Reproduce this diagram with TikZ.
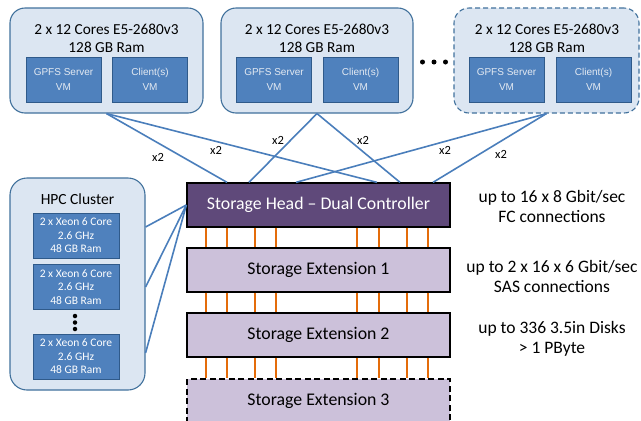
\documentclass[tikz,border=0pt]{standalone}
\usepackage{fontspec}
\setmainfont{Carlito}
\newfontfamily\arialf{Liberation Sans}
\definecolor{boxfill}{HTML}{DCE6F2}
\definecolor{boxline}{HTML}{41719C}
\definecolor{vmfill}{HTML}{4F81BD}
\definecolor{vmline}{HTML}{2F5A8A}
\definecolor{link}{HTML}{4A7EBB}
\definecolor{headfill}{HTML}{5F497A}
\definecolor{extfill}{HTML}{CCC1DA}
\definecolor{sas}{HTML}{E46C0A}
\definecolor{vmtext}{HTML}{E4EAF2}
\tikzset{
  server/.style={draw=boxline, fill=boxfill, line width=1.1pt, rounded corners=15pt, minimum width=#1, minimum height=105pt, inner sep=0pt},
  vmbox/.style={draw=vmline, fill=vmfill, line width=1pt, minimum width=75pt, minimum height=45pt, inner sep=0pt, align=center, text=vmtext, font=\arialf\fontsize{10}{15}\selectfont},
  hpcnode/.style={draw=vmline, fill=vmfill, line width=1pt, minimum width=86pt, minimum height=45pt, inner sep=0pt, align=center, text=white, font=\fontsize{11.5}{13.5}\selectfont},
  title/.style={align=center, font=\fontsize{15.3}{18}\selectfont, inner sep=0pt},
  storbox/.style={draw=black, line width=1.3pt, minimum width=263pt, minimum height=44pt, inner sep=0pt, font=\fontsize{17.8}{20}\selectfont},
  linkline/.style={draw=link, line width=1.6pt},
  sasline/.style={draw=sas, line width=1.5pt},
  mult/.style={font=\fontsize{12.5}{14}\selectfont, inner sep=0pt},
  note/.style={align=center, font=\fontsize{17.5}{20}\selectfont, inner sep=0pt},
  dotmark/.style={fill=black, circle, inner sep=0pt, minimum size=5pt}
}
\begin{document}
\begin{tikzpicture}[x=1pt,y=-1pt]
\useasboundingbox (0,0) rectangle (641,421);
\begin{scope}
\clip (0,0) rectangle (641,421);
% top servers
\node[server=193pt] (b1) at (106.5,60.5) {};
\node[server=192pt] (b2) at (317,60.5) {};
\node[server=185pt, dashed, dash pattern=on 5pt off 3pt] (b3) at (546.5,60.5) {};
\node[title] (t1) at (106.5,38) {2 x 12 Cores E5-2680v3\\128 GB Ram};
\node[title] (t2) at (317,38) {2 x 12 Cores E5-2680v3\\128 GB Ram};
\node[title] (t3) at (547,38) {2 x 12 Cores E5-2680v3\\128 GB Ram};
\node[vmbox] (g1) at (63.5,79.5) {GPFS Server\\VM};
\node[vmbox] (c1) at (150,79.5) {Client(s)\\VM};
\node[vmbox] (g2) at (274,79.5) {GPFS Server\\VM};
\node[vmbox] (c2) at (360.5,79.5) {Client(s)\\VM};
\node[vmbox] (g3) at (506.5,79.5) {GPFS Server\\VM};
\node[vmbox] (c3) at (593.5,79.5) {Client(s)\\VM};
\node[dotmark] (d1) at (422.5,62) {};
\node[dotmark] (d2) at (434,62) {};
\node[dotmark] (d3) at (445.5,62) {};
% HPC cluster
\node[draw=boxline, fill=boxfill, line width=1.1pt, rounded corners=17pt, minimum width=135pt, minimum height=212pt] (hpc) at (77.5,284) {};
\node[font=\fontsize{15.5}{17}\selectfont, inner sep=0pt] (hpct) at (77.5,199) {HPC Cluster};
\node[hpcnode] (n1) at (76,235.5) {2 x Xeon 6 Core\\2.6 GHz\\48 GB Ram};
\node[hpcnode] (n2) at (76,287) {2 x Xeon 6 Core\\2.6 GHz\\48 GB Ram};
\node[hpcnode] (n3) at (76,356.5) {2 x Xeon 6 Core\\2.6 GHz\\48 GB Ram};
\node[dotmark, minimum size=4.5pt] (v1) at (75,316) {};
\node[dotmark, minimum size=4.5pt] (v2) at (75,322.5) {};
\node[dotmark, minimum size=4.5pt] (v3) at (75,329) {};
% storage
\node[storbox, fill=headfill, text=white] (head) at (318.5,205) {Storage Head -- Dual Controller};
\node[storbox, fill=extfill] (e1) at (318.5,270) {Storage Extension 1};
\node[storbox, fill=extfill] (e2) at (318.5,335) {Storage Extension 2};
\node[storbox, fill=extfill, dashed, dash pattern=on 6pt off 3.5pt] (e3) at (318.5,401) {Storage Extension 3};
% SAS lines
\foreach \xx in {206,227,255,276,357,379,407,428}{
  \coordinate (o) at (\xx,0);
  \draw[sasline] (head.south -| o) -- (e1.north -| o);
  \draw[sasline] (e1.south -| o) -- (e2.north -| o);
  \draw[sasline] (e2.south -| o) -- (e3.north -| o);
}
% links
\coordinate (h1) at (227,0);
\coordinate (h2) at (249,0);
\coordinate (h3) at (296,0);
\coordinate (h4) at (377,0);
\coordinate (h5) at (400,0);
\coordinate (h6) at (433,0);
\draw[linkline] (b1.south) -- (head.north -| h1);
\draw[linkline] (b1.south) -- (head.north -| h4);
\draw[linkline] (b2.south) -- (head.north -| h2);
\draw[linkline] (b2.south) -- (head.north -| h5);
\draw[linkline] (b3.south) -- (head.north -| h3);
\draw[linkline] (b3.south) -- (head.north -| h6);
\coordinate (p1) at (145,227);
\coordinate (p2) at (145,287);
\coordinate (p3) at (145,353);
\draw[linkline] (hpc.east |- p1) -- (head.west);
\draw[linkline] (hpc.east |- p2) -- (head.west);
\draw[linkline] (hpc.east |- p3) -- (head.west);
\node[mult] (m1) at (158,157) {x2};
\node[mult] (m2) at (216,150) {x2};
\node[mult] (m3) at (278,140) {x2};
\node[mult] (m4) at (363,140) {x2};
\node[mult] (m5) at (445,150) {x2};
\node[mult] (m6) at (501,154) {x2};
% notes
\node[note] (r1) at (552,206) {up to 16 x 8 Gbit/sec\\FC connections};
\node[note] (r2) at (552,276) {up to 2 x 16 x 6 Gbit/sec\\SAS connections};
\node[note] (r3) at (552,339) {up to 336 3.5in Disks\\> 1 PByte};
\end{scope}
\end{tikzpicture}
\end{document}
